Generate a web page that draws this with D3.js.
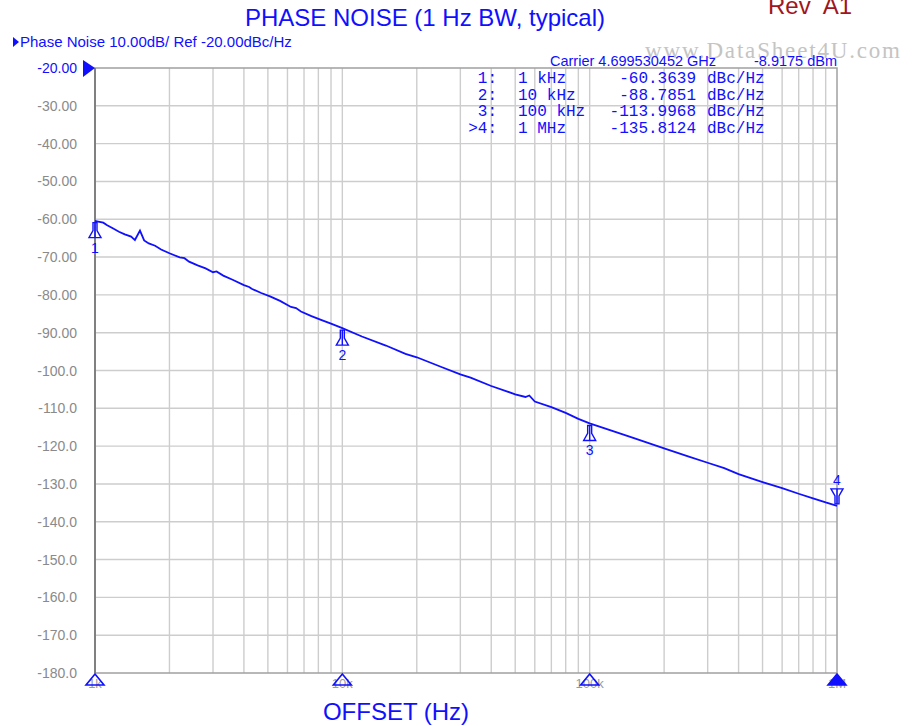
<!DOCTYPE html>
<html>
<head>
<meta charset="utf-8">
<script src="https://cdn.jsdelivr.net/npm/d3@7"></script>
<style>
  body { margin: 0; background: #fff; }
  svg { display: block; }
</style>
</head>
<body>
<div id="chart"></div>
<script>
// trace (offset in Hz, phase noise in dBc/Hz)
const offsets = [1000, 1030, 1080, 1120, 1180, 1250, 1320, 1400, 1450, 1520, 1580, 1650, 1750, 1850,
  2000, 2200, 2300, 2400, 2600, 2800, 3000, 3100, 3300, 3600, 4000, 4200, 4300, 4700, 5100, 5600, 6200,
  6500, 6800, 7500, 8200, 9000, 10000, 12000, 15000, 18000, 20000, 25000, 30000, 33000, 40000, 50000,
  55000, 57000, 60000, 70000, 80000, 90000, 100000, 120000, 150000, 200000, 250000, 300000, 350000,
  400000, 500000, 600000, 700000, 800000, 900000, 1000000];
const noise = [-60.4, -60.6, -60.9, -61.6, -62.4, -63.3, -64.0, -64.6, -65.5, -63.0, -65.6, -66.4, -67.0, -68.0,
  -69.0, -70.1, -70.3, -71.2, -72.2, -73.0, -74.0, -73.8, -74.9, -76.0, -77.4, -77.9, -78.4, -79.5, -80.4, -81.6,
  -83.2, -83.5, -84.4, -85.6, -86.6, -87.6, -88.8, -91.0, -93.4, -95.6, -96.5, -99.0, -101.0, -101.9, -104.1,
  -106.3, -107.0, -106.6, -108.2, -109.7, -111.2, -112.8, -114.0, -115.7, -117.8, -120.6, -122.7, -124.4,
  -125.8, -127.4, -129.5, -131.1, -132.6, -133.8, -134.9, -135.8];

// markers
const markerIds = ["1", "2", "3", "4"];
const markerFreqs = [1000, 10000, 100000, 1000000];
const markerNames = ["1 kHz", "10 kHz", "100 kHz", "1 MHz"];
const markerValues = [-60.3639, -88.7851, -113.9968, -135.8124];

const yTicks = [-20, -30, -40, -50, -60, -70, -80, -90, -100, -110, -120, -130, -140, -150, -160, -170, -180];
const xTickLabels = ["1k", "10k", "100k", "1M"];

const W = 921, H = 726;
const pL = 95, pR = 837, pT = 68, pB = 673;
const blue = "#1010ff", gray = "#8a8a8a", grid = "#cdcdcd";
const sans = "'Liberation Sans', Arial, sans-serif";

const svg = d3.select("#chart").append("svg")
  .attr("width", W).attr("height", H);

const x = d3.scaleLog().domain([1e3, 1e6]).range([pL, pR]);
const y = d3.scaleLinear().domain([-180, -20]).range([pB, pT]);

// titles
svg.append("text")
  .attr("x", 425).attr("y", 26)
  .attr("text-anchor", "middle")
  .style("font", `24px ${sans}`).style("fill", blue)
  .text("PHASE NOISE (1 Hz BW, typical)");

svg.append("text")
  .attr("x", 768).attr("y", 14)
  .style("font", `24px ${sans}`).style("fill", "#a0161c")
  .style("white-space", "pre")
  .text("Rev  A1");

svg.append("text")
  .attr("x", 396).attr("y", 720)
  .attr("text-anchor", "middle")
  .style("font", `24px ${sans}`).style("fill", blue)
  .text("OFFSET (Hz)");

// header line
svg.append("path")
  .attr("d", "M13,37 L19,42 L13,47 Z")
  .style("fill", blue);
svg.append("text")
  .attr("x", 20).attr("y", 47)
  .style("font", `15px ${sans}`).style("fill", blue)
  .text("Phase Noise 10.00dB/ Ref -20.00dBc/Hz");

// watermark
svg.append("text")
  .attr("x", 645).attr("y", 58)
  .attr("textLength", 255)
  .style("font", `23px 'Liberation Serif', serif`).style("fill", "#c4c4c4")
  .text("www.DataSheet4U.com");

// grid
const vLines = [];
[1e3, 1e4, 1e5].forEach(d => { for (let k = 1; k < 10; k++) vLines.push(d * k); });
svg.append("g").selectAll("line")
  .data(vLines.slice(1))
  .join("line")
    .attr("x1", d => x(d)).attr("x2", d => x(d))
    .attr("y1", pT).attr("y2", pB)
    .style("stroke", grid).style("stroke-width", 1.4);

svg.append("g").selectAll("line")
  .data(yTicks.slice(1, -1))
  .join("line")
    .attr("x1", pL).attr("x2", pR)
    .attr("y1", d => y(d)).attr("y2", d => y(d))
    .style("stroke", grid).style("stroke-width", 1.4);

// frame
svg.append("rect")
  .attr("x", pL).attr("y", pT)
  .attr("width", pR - pL).attr("height", pB - pT)
  .style("fill", "none").style("stroke", "#a0a0a0").style("stroke-width", 1.5);
svg.append("line")
  .attr("x1", pL).attr("x2", pL).attr("y1", pT).attr("y2", pB)
  .style("stroke", "#808080").style("stroke-width", 2);

// y labels
svg.append("g").selectAll("text")
  .data(yTicks)
  .join("text")
    .attr("x", 77).attr("y", d => y(d) + 5)
    .attr("text-anchor", "end")
    .style("font", `14px ${sans}`)
    .style("fill", d => d === -20 ? blue : gray)
    .text(d => d > -100 ? d.toFixed(2) : d.toFixed(1));

// reference level arrow
svg.append("path")
  .attr("d", `M83,${y(-20) - 8} L95,${y(-20)} L83,${y(-20) + 9} Z`)
  .style("fill", blue);

// x labels + stimulus markers
svg.append("g").selectAll("text")
  .data(xTickLabels)
  .join("text")
    .attr("x", (d, i) => x(markerFreqs[i]))
    .attr("y", 688)
    .attr("text-anchor", "middle")
    .style("font", `13px ${sans}`).style("fill", "#9a9a9a")
    .text(d => d);

svg.append("g").selectAll("path")
  .data(markerFreqs)
  .join("path")
    .attr("d", d => `M${x(d)},${pB + 1} L${x(d) + 9},${pB + 12} L${x(d) - 9},${pB + 12} Z`)
    .style("fill", (d, i) => i === 3 ? blue : "none")
    .style("stroke", blue).style("stroke-width", 1.6);

// marker table
const table = svg.append("g")
  .style("font", `16px 'Liberation Mono', monospace`).style("fill", blue);
svg.append("text")
  .attr("x", 550).attr("y", 66)
  .style("font", `14.5px ${sans}`).style("fill", blue)
  .text("Carrier 4.699530452 GHz");
svg.append("text")
  .attr("x", 837).attr("y", 66)
  .attr("text-anchor", "end")
  .style("font", `14.5px ${sans}`).style("fill", blue)
  .text("-8.9175 dBm");

const rowY = i => 83 + i * 16.5;
table.selectAll(".id").data(markerIds).join("text")
  .attr("x", 497).attr("y", (d, i) => rowY(i))
  .attr("text-anchor", "end")
  .text((d, i) => (i === 3 ? ">" : "") + d + ":");
table.selectAll(".nm").data(markerNames).join("text")
  .attr("x", 518).attr("y", (d, i) => rowY(i))
  .text(d => d);
table.selectAll(".val").data(markerValues).join("text")
  .attr("x", 696).attr("y", (d, i) => rowY(i))
  .attr("text-anchor", "end")
  .text(d => d.toFixed(4));
table.selectAll(".unit").data(markerValues).join("text")
  .attr("x", 707).attr("y", (d, i) => rowY(i))
  .text("dBc/Hz");

// trace
const pts = offsets.map((f, i) => [f, noise[i]]);
svg.append("path")
  .datum(pts)
  .attr("d", d3.line().x(d => x(d[0])).y(d => y(d[1])))
  .style("fill", "none").style("stroke", blue).style("stroke-width", 1.8);

// markers on the trace
const mk = svg.append("g");
markerFreqs.forEach((f, i) => {
  const px = x(f), py = y(markerValues[i]);
  const g = mk.append("g").attr("transform", `translate(${px},${py})`);
  const s = i === 3 ? -1 : 1;
  g.append("path")
    .attr("d", `M-2,${s * 2} L-2,${s * 10} L-6,${s * 17} L6,${s * 17} L2,${s * 10} L2,${s * 2} Z M0,${s * 2} L0,${s * 17}`)
    .style("fill", "none").style("stroke", blue).style("stroke-width", 1.4);
  g.append("text")
    .attr("x", 0).attr("y", i === 3 ? -21 : 32)
    .attr("text-anchor", "middle")
    .style("font", `14px ${sans}`).style("fill", blue)
    .text(markerIds[i]);
});
</script>
</body>
</html>
